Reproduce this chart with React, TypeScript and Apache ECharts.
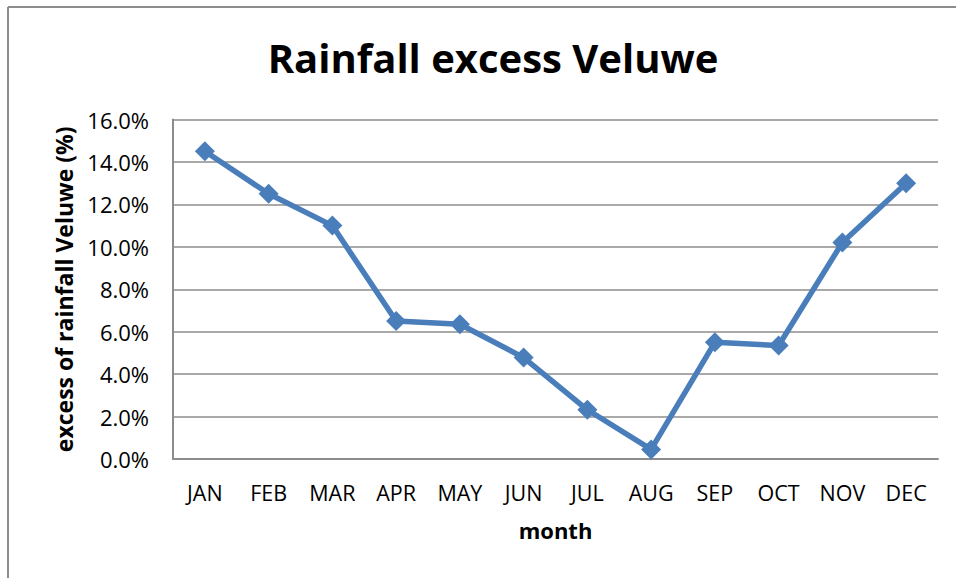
import React, { useEffect, useRef } from "react";
import * as echarts from "echarts";

const months = ["JAN", "FEB", "MAR", "APR", "MAY", "JUN", "JUL", "AUG", "SEP", "OCT", "NOV", "DEC"];
const excess = [14.5, 12.5, 11.0, 6.5, 6.35, 4.78, 2.32, 0.45, 5.5, 5.35, 10.2, 13.0];
const yTicks = { min: 0, max: 16, interval: 2 };

const FONT = "'Open Sans', Lato, sans-serif";

export default function App() {
  const ref = useRef<HTMLDivElement>(null);
  useEffect(() => {
    if (!ref.current) return;
    const chart = echarts.init(ref.current, undefined, { renderer: "svg" });
    chart.setOption({
      animation: false,
      backgroundColor: "#ffffff",
      title: {
        text: "Rainfall excess Veluwe",
        left: 488,
        top: 32,
        textAlign: "center",
        textStyle: { fontFamily: FONT, fontWeight: "bold", fontSize: 40, color: "#000" },
      },
      graphic: [
        { type: "line", shape: { x1: 8, y1: 7, x2: 956, y2: 7 }, style: { stroke: "#8c8c8c", lineWidth: 2 } },
        { type: "line", shape: { x1: 8, y1: 7, x2: 8, y2: 578 }, style: { stroke: "#8c8c8c", lineWidth: 2 } },
      ],
      grid: { left: 173, right: 18, top: 119.5, bottom: 119 },
      xAxis: {
        type: "category",
        data: months,
        boundaryGap: true,
        name: "month",
        nameLocation: "middle",
        nameGap: 60,
        nameTextStyle: { fontFamily: FONT, fontWeight: "bold", fontSize: 22, color: "#000" },
        axisLine: { lineStyle: { color: "#8c8c8c", width: 2 } },
        axisTick: { show: false },
        axisLabel: { fontFamily: FONT, fontSize: 21.5, color: "#000", margin: 22 },
      },
      yAxis: {
        type: "value",
        min: yTicks.min,
        max: yTicks.max,
        interval: yTicks.interval,
        name: "excess of rainfall Veluwe (%)",
        nameLocation: "middle",
        nameGap: 98,
        nameTextStyle: { fontFamily: FONT, fontWeight: "bold", fontSize: 23, color: "#000" },
        axisLine: { show: true, lineStyle: { color: "#8c8c8c", width: 2 } },
        axisTick: { show: false },
        splitLine: { lineStyle: { color: "#8c8c8c", width: 1.5 } },
        axisLabel: {
          fontFamily: FONT,
          fontSize: 22,
          color: "#000",
          margin: 24,
          formatter: (v: number) => v.toFixed(1) + "%",
        },
      },
      series: [
        {
          type: "line",
          data: excess,
          symbol: "diamond",
          symbolSize: 20,
          lineStyle: { color: "#4a7ebb", width: 5.5 },
          itemStyle: { color: "#4a7ebb" },
        },
      ],
    });
    return () => chart.dispose();
  }, []);
  return (
    <div
      ref={ref}
      style={{ position: "absolute", left: 0, top: 0, width: 956, height: 578 }}
    />
  );
}
